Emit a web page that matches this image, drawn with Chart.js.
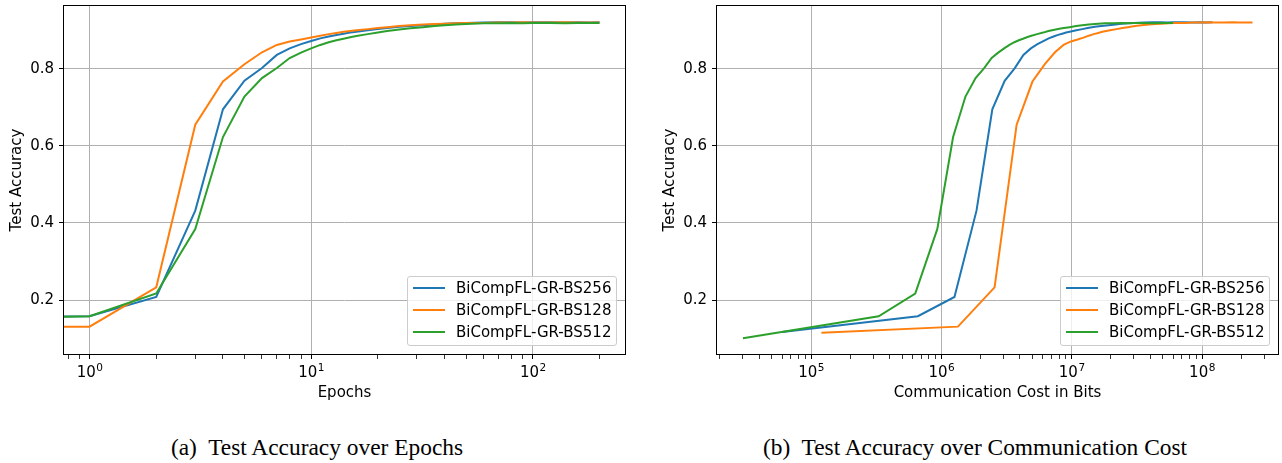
<!DOCTYPE html>
<html>
<head>
<meta charset="utf-8">
<script src="https://cdn.jsdelivr.net/npm/chart.js@4.4.0/dist/chart.umd.min.js"></script>
<style>
  body { margin: 0; background: #fff; width: 1282px; height: 463px; position: relative; overflow: hidden; font-family: "DejaVu Sans"; }
  canvas { position: absolute; top: 0; }
  #c1 { left: 0; }
  #c2 { left: 640px; }
  .legend { position: absolute; top: 276px; width: 210px; height: 70px; box-sizing: border-box; border: 1px solid #cccccc; border-radius: 3px; background: rgba(255,255,255,0.8); font-size: 15px; color: #000; }
  .legend .row { position: absolute; left: 0; height: 22px; }
  .legend .swatch { position: absolute; left: 5px; top: 10px; width: 32px; height: 2px; }
  .legend .lab { position: absolute; left: 48px; top: 1px; line-height: 20px; white-space: nowrap; }
  .caption { position: absolute; top: 436px; line-height: 22px; font-family: "Liberation Serif"; font-size: 23.4px; transform: translateX(-50%); white-space: nowrap; color: #000; }
</style>
</head>
<body>
<canvas id="c1" width="640" height="420"></canvas>
<canvas id="c2" width="642" height="420"></canvas>
<div class="legend" id="leg1" style="left:407px"></div>
<div class="legend" id="leg2" style="left:1060px"></div>
<div class="caption" style="left:317px">(a)&nbsp; Test Accuracy over Epochs</div>
<div class="caption" style="left:975px">(b)&nbsp; Test Accuracy over Communication Cost</div>
<script>
// test accuracy per epoch (epoch 0 = initial model)
var epochs = [0,1,2,3,4,5,6,7,8,9,10,11,12,13,14,15,16,18,20,22,25,28,32,36,40,45,50,60,70,80,90,100,120,140,160,180,200];
var accBS256 = [0.117,0.158,0.208,0.432,0.695,0.769,0.802,0.836,0.853,0.864,0.872,0.879,0.884,0.888,0.891,0.894,0.896,0.900,0.903,0.906,0.909,0.911,0.913,0.915,0.917,0.918,0.919,0.920,0.921,0.921,0.920,0.921,0.921,0.920,0.921,0.920,0.921];
var accBS128 = [0.115,0.131,0.233,0.655,0.767,0.812,0.843,0.862,0.871,0.876,0.881,0.886,0.890,0.893,0.896,0.898,0.900,0.903,0.906,0.908,0.911,0.913,0.915,0.916,0.917,0.918,0.919,0.919,0.920,0.920,0.921,0.920,0.920,0.921,0.920,0.920,0.920];
var accBS512 = [0.101,0.158,0.217,0.384,0.623,0.728,0.776,0.802,0.828,0.842,0.853,0.862,0.869,0.874,0.878,0.882,0.885,0.890,0.894,0.898,0.902,0.905,0.908,0.911,0.913,0.915,0.916,0.918,0.918,0.919,0.918,0.919,0.919,0.918,0.919,0.919,0.919];

// cumulative communication cost in Mbit at each of those epochs
var mbitBS256 = [0.06,0.66,1.26,1.86,2.46,3.06,3.66,4.26,4.86,5.46,6.06,6.66,7.26,7.86,8.46,9.06,9.66,10.86,12.06,13.26,15.06,16.86,19.26,21.66,24.06,27.06,30.06,36.06,42.06,48.06,54.06,60.06,72.06,84.06,96.06,108.06,120.06];
var mbitBS128 = [0.12,1.34,2.56,3.78,5.00,6.22,7.44,8.66,9.88,11.10,12.32,13.54,14.76,15.98,17.20,18.42,19.64,22.08,24.52,26.96,30.62,34.28,39.16,44.04,48.92,55.02,61.12,73.32,85.52,97.72,109.92,122.12,146.52,170.92,195.32,219.72,244.12];
var mbitBS512 = [0.03,0.33,0.63,0.93,1.23,1.53,1.83,2.13,2.43,2.73,3.03,3.33,3.63,3.93,4.23,4.53,4.83,5.43,6.03,6.63,7.53,8.43,9.63,10.83,12.03,13.53,15.03,18.03,21.03,24.03,27.03,30.03,36.03,42.03,48.03,54.03,60.03];

var seriesLabels = ['BiCompFL-GR-BS256', 'BiCompFL-GR-BS128', 'BiCompFL-GR-BS512'];
var seriesColors = ['#1f77b4', '#ff7f0e', '#2ca02c'];
var accSeries = [accBS256, accBS128, accBS512];
var mbitSeries = [mbitBS256, mbitBS128, mbitBS512];

// tick labels: y values, and "10^exp" labels for the log x axes
var accTicks = [0.2, 0.4, 0.6, 0.8];
var epochTickExps = {1: '0', 10: '1', 100: '2'};
var bitsTickExps = {100000: '5', 1000000: '6', 10000000: '7', 100000000: '8'};

// epoch 0 cannot sit on a log axis; matplotlib clipped it to a tiny value
var EPOCH0 = 1e-6;

function logTicks(lo, hi) {
  var out = [];
  for (var e = Math.floor(Math.log10(lo)); e <= Math.ceil(Math.log10(hi)); e++) {
    for (var m = 1; m < 10; m++) {
      var v = m * Math.pow(10, e);
      if (v >= lo && v <= hi) out.push({value: v, major: m === 1});
    }
  }
  return out;
}

var framePlugin = {
  id: 'frame',
  afterDraw: function(chart) {
    var a = chart.chartArea, ctx = chart.ctx;
    ctx.save();
    ctx.strokeStyle = '#000';
    ctx.lineWidth = 1;
    ctx.strokeRect(Math.round(a.left) - 0.5, Math.round(a.top) - 0.5, Math.round(a.right - a.left) + 1, Math.round(a.bottom - a.top) + 1);
    ctx.restore();
  }
};

// draws "10" with a raised, smaller exponent under each major x tick
var expLabelPlugin = {
  id: 'expLabels',
  afterDraw: function(chart, args, opts) {
    var ctx = chart.ctx, xs = chart.scales.x;
    var base = chart.chartArea.bottom + 23;
    ctx.save();
    ctx.fillStyle = '#000';
    ctx.textBaseline = 'alphabetic';
    ctx.textAlign = 'left';
    Object.keys(opts.exps).forEach(function(k) {
      var px = xs.getPixelForValue(Number(k));
      ctx.font = '15px "DejaVu Sans"';
      var w1 = ctx.measureText('10').width;
      ctx.font = '10.5px "DejaVu Sans"';
      var w2 = ctx.measureText(opts.exps[k]).width;
      var x0 = px - (w1 + w2) / 2;
      ctx.font = '15px "DejaVu Sans"';
      ctx.fillText('10', x0, base);
      ctx.font = '10.5px "DejaVu Sans"';
      ctx.fillText(opts.exps[k], x0 + w1 + 0.5, base - 6);
    });
    ctx.restore();
  }
};

function makeChart(id, datasets, xMin, xMax, xTitle, xExps, padLeft, padRight) {
  var font = {family: 'DejaVu Sans', size: 15};
  return new Chart(document.getElementById(id).getContext('2d'), {
    type: 'line',
    data: {datasets: datasets},
    plugins: [framePlugin, expLabelPlugin],
    options: {
      responsive: false,
      animation: false,
      devicePixelRatio: 1,
      layout: {padding: {top: 6, left: padLeft, right: padRight, bottom: 0}},
      plugins: {legend: {display: false}, tooltip: {enabled: false}, expLabels: {exps: xExps}},
      elements: {point: {radius: 0}, line: {borderWidth: 2, tension: 0}},
      scales: {
        x: {
          type: 'logarithmic',
          min: xMin,
          max: xMax,
          border: {display: false},
          afterBuildTicks: function(axis) { axis.ticks = logTicks(xMin, xMax); },
          afterFit: function(axis) { axis.height = 66; axis.paddingLeft = 0; axis.paddingRight = 0; },
          grid: {
            color: function(c) { return c.tick && c.tick.major ? '#b0b0b0' : 'rgba(0,0,0,0)'; },
            lineWidth: 1,
            tickColor: '#000',
            tickWidth: function(c) { return c.tick && c.tick.major ? 1 : 0.8; },
            tickLength: 5
          },
          ticks: {
            autoSkip: false, maxRotation: 0, padding: 3, color: '#000', font: font,
            callback: function() { return ''; }
          },
          title: {display: true, text: xTitle, color: '#000', font: font, padding: {top: 0, bottom: 18}}
        },
        y: {
          type: 'linear',
          min: 0.06,
          max: 0.963,
          border: {display: false},
          afterBuildTicks: function(axis) { axis.ticks = accTicks.map(function(v) { return {value: v}; }); },
          afterFit: function(axis) { axis.width = 64; axis.paddingTop = 0; axis.paddingBottom = 0; },
          grid: {color: '#b0b0b0', lineWidth: 1, tickColor: '#000', tickLength: 5},
          ticks: {padding: 5, color: '#000', font: font, callback: function(v) { return v.toFixed(1); }},
          title: {display: true, text: 'Test Accuracy', color: '#000', font: font, padding: {top: 8, bottom: 0}}
        }
      }
    }
  });
}

function epochSets() {
  return seriesLabels.map(function(label, s) {
    return {
      label: label,
      borderColor: seriesColors[s],
      order: 3 - s,
      data: epochs.map(function(e, i) { return {x: e === 0 ? EPOCH0 : e, y: accSeries[s][i]}; })
    };
  });
}

function bitSets() {
  return seriesLabels.map(function(label, s) {
    return {
      label: label,
      borderColor: seriesColors[s],
      order: 3 - s,
      data: mbitSeries[s].map(function(mb, i) { return {x: mb * 1e6, y: accSeries[s][i]}; })
    };
  });
}

function buildLegend(id) {
  var box = document.getElementById(id);
  seriesLabels.forEach(function(label, s) {
    var row = document.createElement('div');
    row.className = 'row';
    row.style.top = (s * 22) + 'px';
    row.innerHTML = '<span class="swatch" style="background:' + seriesColors[s] + '"></span><span class="lab">' + label + '</span>';
    box.appendChild(row);
  });
}

makeChart('c1', epochSets(), 0.767, 260.7, 'Epochs', epochTickExps, 0, 15);
makeChart('c2', bitSets(), 1.897e4, 3.83e8, 'Communication Cost in Bits', bitsTickExps, 13, 4);
buildLegend('leg1');
buildLegend('leg2');
</script>
</body>
</html>
